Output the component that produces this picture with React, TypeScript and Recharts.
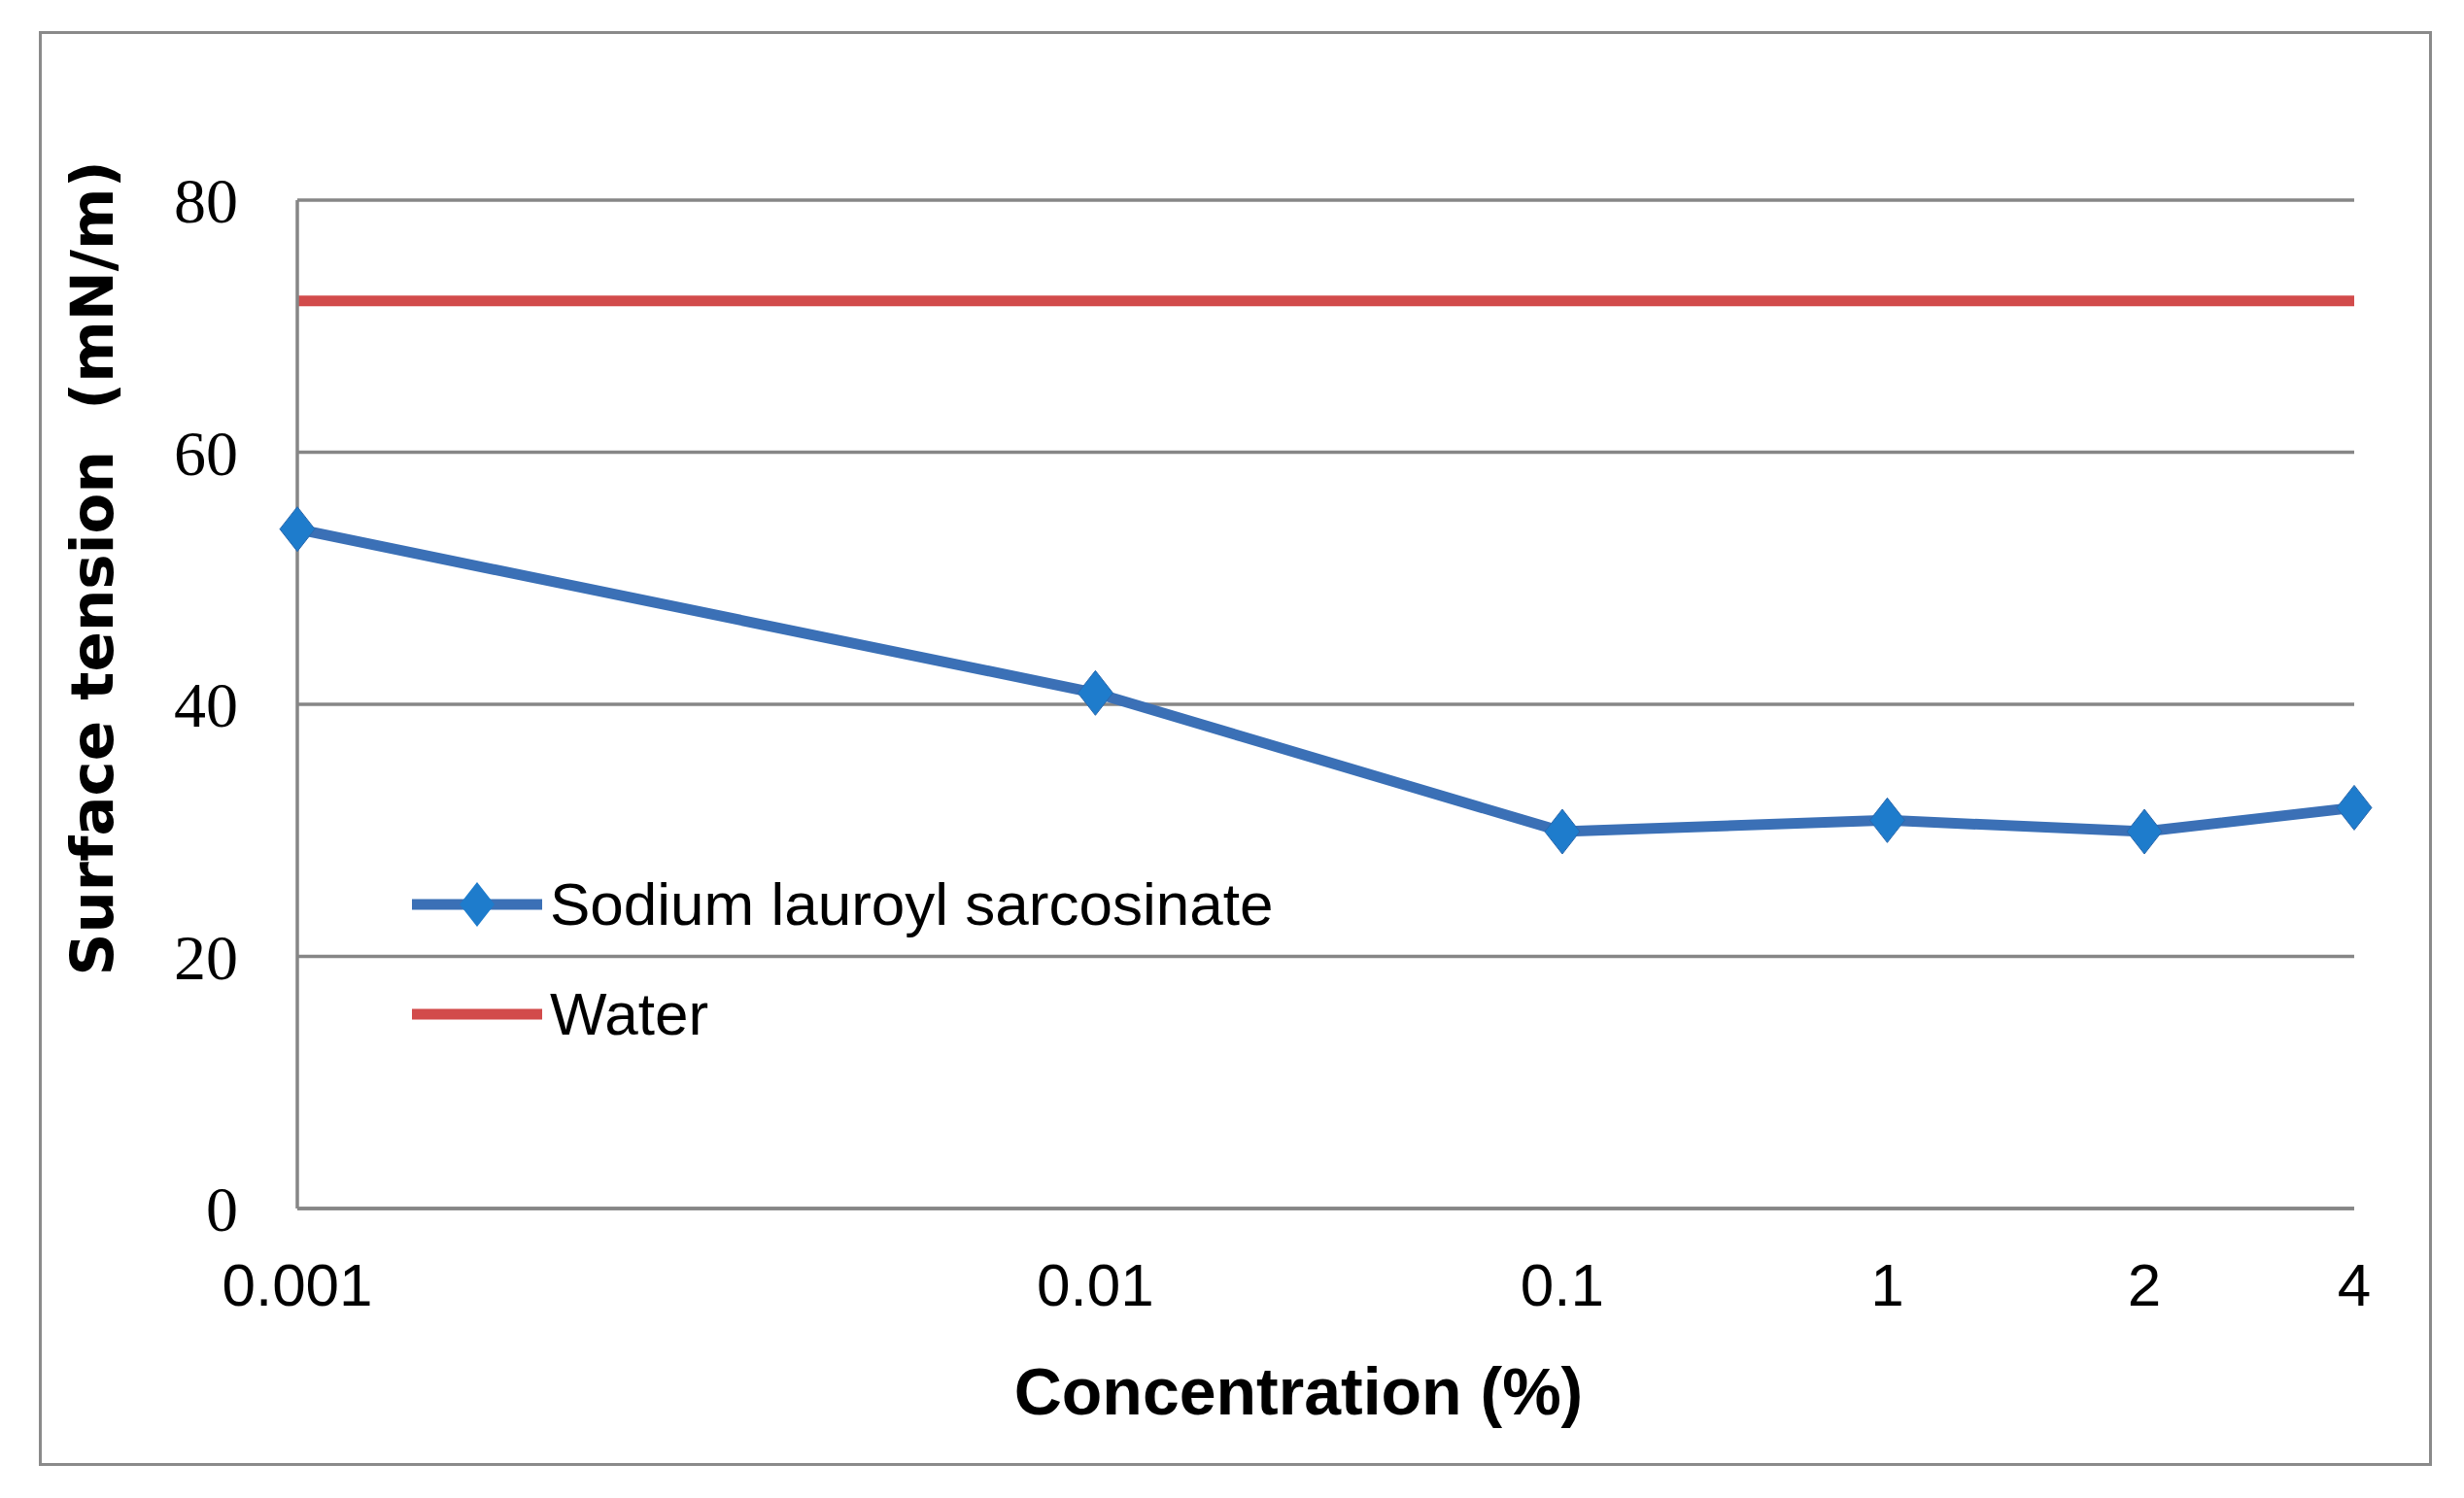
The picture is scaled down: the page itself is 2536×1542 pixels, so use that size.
import React from 'react';
import { LineChart, Line, XAxis, YAxis, CartesianGrid, Legend, Label } from 'recharts';

// Concentration (%) categories and their horizontal placement on the original axis (0..100 scale)
const concentrations = ['0.001', '0.01', '0.1', '1', '2', '4'];
const axisPositions = [0, 38.8, 61.5, 77.3, 89.8, 100];
// Surface tension (mN/m)
const slsValues = [53.9, 40.9, 29.9, 30.8, 29.9, 31.8];
const waterValues = [72, 72, 72, 72, 72, 72];
const yTicks = [0, 20, 40, 60, 80];

const seriesNames = { sls: 'Sodium lauroyl sarcosinate', water: 'Water' };

const data = concentrations.map((c, i) => ({
  conc: c,
  pos: axisPositions[i],
  sls: slsValues[i],
  water: waterValues[i],
}));

const BLUE_LINE = '#3b70b6';
const BLUE_MARK = '#1e7ccc';
const RED = '#d24b4b';
const GRID = '#868686';

const Diamond = (props: any) => {
  const { cx, cy } = props;
  if (cx == null || cy == null) return null;
  return (
    <path
      d={`M${cx},${cy - 23} L${cx + 18},${cy} L${cx},${cy + 23} L${cx - 18},${cy} Z`}
      fill={BLUE_MARK}
      stroke="#2a68ad"
      strokeWidth={1}
    />
  );
};

const renderLegend = (props: any) => {
  const payload = props.payload || [];
  return (
    <div style={{ display: 'flex', flexDirection: 'column' }}>
      {payload.map((entry: any) => {
        const isSls = entry.dataKey === 'sls';
        return (
          <div key={entry.value} style={{ display: 'flex', alignItems: 'center', height: 113 }}>
            <svg width={142} height={60} style={{ display: 'block' }}>
              <line x1={0} y1={30} x2={134} y2={30} stroke={isSls ? BLUE_LINE : RED} strokeWidth={11} />
              {isSls && <path d="M67,7 L85,30 L67,53 L49,30 Z" fill={BLUE_MARK} />}
            </svg>
            <span
              style={{
                fontFamily: '"Liberation Sans", Arial, sans-serif',
                fontSize: 62,
                color: '#000',
                lineHeight: 1,
                whiteSpace: 'nowrap',
              }}
            >
              {entry.value}
            </span>
          </div>
        );
      })}
    </div>
  );
};

const YTitle = (props: any) => {
  const vb = props.viewBox || {};
  const x = vb.x - 12;
  const y = vb.y + vb.height / 2 - 140;
  return (
    <text
      x={x}
      y={y}
      transform={`rotate(-90, ${x}, ${y})`}
      textAnchor="middle"
      dominantBaseline="central"
      style={{ fontFamily: '"DejaVu Sans", Verdana, sans-serif', fontWeight: 700, fontSize: 61, fill: '#000', whiteSpace: 'pre' }}
    >
      {'Surface tension\u00A0\u00A0(mN/m)'}
    </text>
  );
};

const XTitle = (props: any) => {
  const vb = props.viewBox || {};
  const x = vb.x + vb.width / 2 - 28;
  const y = vb.y + 188;
  return (
    <text
      x={x}
      y={y}
      textAnchor="middle"
      dominantBaseline="central"
      style={{ fontFamily: '"Liberation Sans", Arial, sans-serif', fontWeight: 700, fontSize: 68, fill: '#000' }}
    >
      Concentration (%)
    </text>
  );
};

export default function App() {
  return (
    <div style={{ position: 'relative', width: 2520, height: 1520, background: '#fff' }}>
      <div
        style={{
          position: 'absolute',
          left: 32,
          top: 24,
          width: 2463,
          height: 1477,
          border: '3px solid #8a8a8a',
          boxSizing: 'border-box',
          pointerEvents: 'none',
        }}
      />
      <LineChart
        width={2520}
        height={1520}
        data={data}
        margin={{ top: 198, right: 105, bottom: 134, left: 98 }}
      >
        <CartesianGrid vertical={false} stroke={GRID} strokeWidth={3.5} />
        <XAxis
          dataKey="pos"
          type="number"
          domain={[0, 100]}
          ticks={axisPositions}
          tickFormatter={(v: number) => concentrations[axisPositions.indexOf(v)] ?? ''}
          axisLine={{ stroke: GRID, strokeWidth: 3.5 }}
          tickLine={false}
          tickSize={0}
          tickMargin={56}
          height={150}
          interval={0}
          tick={{ fontFamily: '"Liberation Sans", Arial, sans-serif', fontSize: 62, fill: '#000' }}
        >
          <Label content={<XTitle />} />
        </XAxis>
        <YAxis
          type="number"
          domain={[0, 80]}
          ticks={yTicks}
          axisLine={{ stroke: GRID, strokeWidth: 3.5 }}
          tickLine={false}
          tickSize={0}
          tickMargin={61}
          width={200}
          interval={0}
          tick={{ fontFamily: '"Liberation Serif", "Times New Roman", serif', fontSize: 66, fill: '#000' }}
        >
          <Label content={<YTitle />} />
        </YAxis>
        <Legend
          layout="horizontal"
          align="center"
          verticalAlign="middle"
          content={renderLegend}
          wrapperStyle={{ left: 416, top: 866, width: 1000 }}
        />
        <Line
          dataKey="sls"
          name={seriesNames.sls}
          type="linear"
          stroke={BLUE_LINE}
          strokeWidth={11}
          dot={(p: any) => <Diamond key={`dot-${p.index}`} {...p} />}
          activeDot={false}
          isAnimationActive={false}
        />
        <Line
          dataKey="water"
          name={seriesNames.water}
          type="linear"
          stroke={RED}
          strokeWidth={11}
          dot={false}
          activeDot={false}
          isAnimationActive={false}
        />
      </LineChart>
    </div>
  );
}
